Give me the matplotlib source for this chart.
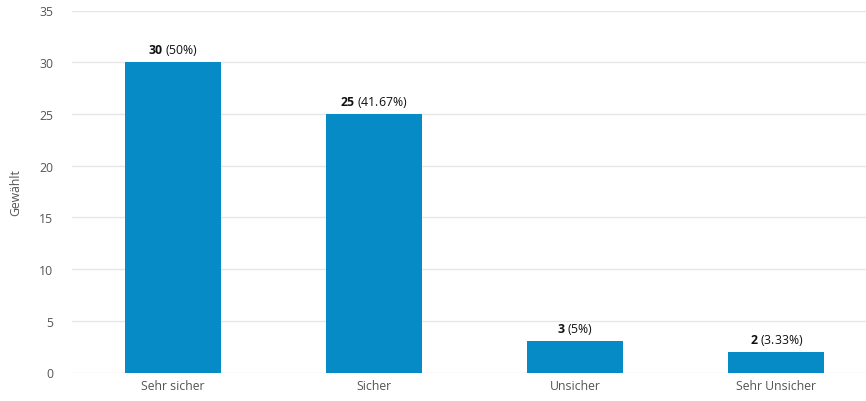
import matplotlib
matplotlib.use("Agg")
import matplotlib.pyplot as plt

plt.rcParams['font.family'] = ['Open Sans', 'DejaVu Sans']
plt.rcParams['mathtext.fontset'] = 'custom'
plt.rcParams['mathtext.rm'] = 'Open Sans'
plt.rcParams['mathtext.bf'] = 'Open Sans:bold'

# data
kategorien = ['Sehr sicher', 'Sicher', 'Unsicher', 'Sehr Unsicher']
gewaehlt = [30, 25, 3, 2]
prozent = ['50%', '41.67%', '5%', '3.33%']

fig = plt.figure(figsize=(8.66, 4.02), dpi=100)
ax = fig.add_axes([72.4 / 866, 28.5 / 402, 804.6 / 866, 362 / 402])

x = range(len(kategorien))
ax.bar(x, gewaehlt, width=0.477, color='#078bc7', zorder=2)

ax.set_xlim(-0.5, len(kategorien) - 0.5)
ax.set_ylim(0, 35)
ax.set_yticks(range(0, 36, 5))
ax.set_xticks(list(x))
ax.set_xticklabels(kategorien)
ax.grid(axis='y', color='#e6e6e6', linewidth=1, zorder=0)
ax.tick_params(axis='both', length=0, labelsize=8.8, colors='#555555')
ax.tick_params(axis='y', pad=14)
ax.tick_params(axis='x', pad=5)
for s in ax.spines.values():
    s.set_visible(False)
ax.set_ylabel('Gewählt', fontsize=8.8, color='#555555')
ax.yaxis.set_label_coords(-50 / 804.6, 0.5)

# werte ueber den balken: fette zahl + normaler prozentwert
for i, (v, p) in enumerate(zip(gewaehlt, prozent)):
    ax.annotate(r'$\mathbf{%d}$ (%s)' % (v, p), (i, v), xytext=(0, 5),
                textcoords='offset pixels', ha='center', va='bottom',
                fontsize=8.8, color='#111111')

fig.savefig('out.png', dpi=100)
